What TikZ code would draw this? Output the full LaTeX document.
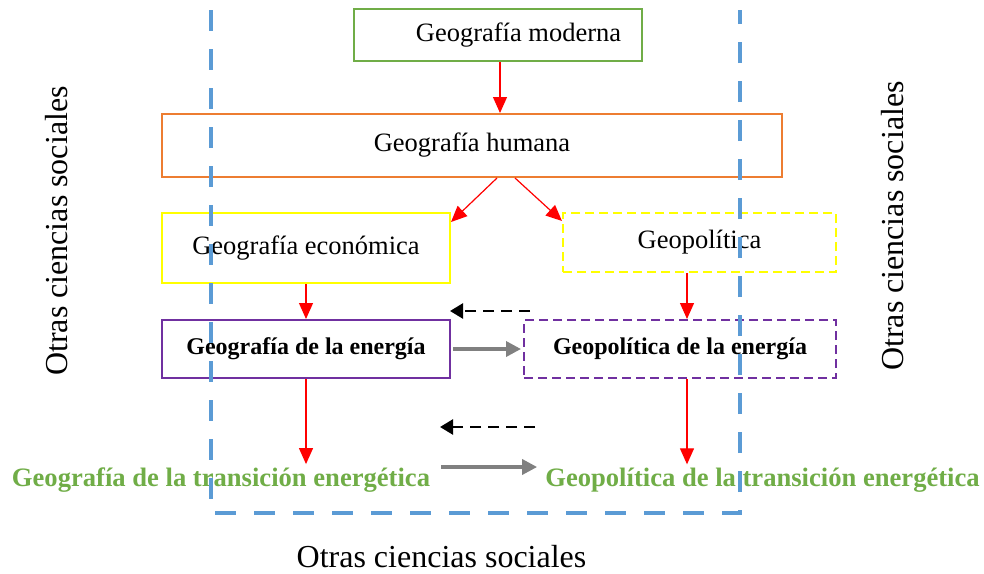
\documentclass[tikz,border=0pt]{standalone}
\usepackage{fontspec}
\setmainfont{Liberation Serif}
\usetikzlibrary{arrows.meta,calc}
\definecolor{cgreen}{HTML}{70AD47}
\definecolor{corange}{HTML}{ED7D31}
\definecolor{cyellow}{HTML}{FFFF00}
\definecolor{cpurple}{HTML}{7030A0}
\definecolor{cblue}{HTML}{5B9BD5}
\definecolor{cgray}{HTML}{808080}
\tikzset{
  box/.style={draw=#1, line width=2pt, inner sep=0pt, font=\fontsize{26.5}{30}\selectfont},
  dbox/.style={box=#1, dash pattern=on 9pt off 5pt},
  ebox/.style={box=#1, font=\fontsize{24}{28}\selectfont\bfseries},
  edbox/.style={ebox=#1, dash pattern=on 9pt off 5pt},
  gtext/.style={text=cgreen, inner sep=3pt, font=\fontsize{26.6}{30}\selectfont\bfseries},
  otext/.style={font=\fontsize{32}{36}\selectfont, inner sep=0pt},
  redarrow/.style={draw=red, line width=1.2pt, -{Triangle[length=16pt,width=14pt]}},
  grayarrow/.style={draw=cgray, line width=3.5pt, -{Triangle[length=15pt,width=15pt]}},
  dasharrow/.style={draw=black, line width=2.5pt, dash pattern=on 11pt off 7pt, -{Triangle[length=13pt,width=15pt]}},
  frame/.style={draw=cblue, line width=4pt, dash pattern=on 21pt off 18pt}
}
\begin{document}
\begin{tikzpicture}[x=1pt,y=-1pt]
\useasboundingbox (0,0) rectangle (984,573);
% boxes
\node[box=cgreen, minimum width=288pt, minimum height=52pt] (mod) at (498,35) {\hspace*{41pt}Geografía moderna};
\node[box=corange, minimum width=620pt, minimum height=63pt] (hum) at (472,145.5) {Geografía humana};
\node[box=cyellow, minimum width=288pt, minimum height=70pt] (eco) at (306,248) {\raisebox{5pt}{Geografía económica}};
\node[dbox=cyellow, minimum width=273pt, minimum height=59pt] (geo) at (699.5,242.5) {\raisebox{-2pt}{Geopolítica}};
\node[ebox=cpurple, minimum width=288pt, minimum height=58pt] (gde) at (306,349) {Geografía de la energía};
\node[edbox=cpurple, minimum width=312pt, minimum height=58pt] (gpe) at (680,349) {Geopolítica de la energía};
\node[gtext, anchor=base] (gtd) at (221,486) {Geografía de la transición energética};
\node[gtext, anchor=base] (gtp) at (762.5,486) {Geopolítica de la transición energética};
% side labels
\node[otext, rotate=90] (osl) at (57,231) {Otras ciencias sociales};
\node[otext, rotate=90] (osr) at (893,226) {Otras ciencias sociales};
\node[otext] (osb) at (441.5,557) {Otras ciencias sociales};
% helper coordinates
\coordinate (d1a) at (530,311);
\coordinate (d1b) at (450,311);
\coordinate (d2a) at (535,427);
\coordinate (d2b) at (440,427);
\coordinate (gy) at (0,467);
% connectors
\draw[redarrow] ([xshift=2pt]mod.south) -- ([xshift=2pt]mod.south |- hum.north);
\draw[redarrow] ([xshift=25pt]hum.south) -- ([yshift=-10pt]eco.north east);
\draw[redarrow] ([xshift=43pt]hum.south) -- ([yshift=-9pt]geo.north west);
\draw[redarrow] (eco.south) -- (gde.north);
\draw[redarrow] ([xshift=-12.5pt]geo.south) -- ([xshift=-12.5pt]geo.south |- gpe.north);
\draw[dasharrow] (d1a) -- (d1b);
\draw[grayarrow] ([xshift=2pt]gde.east) -- ([xshift=-2pt]gpe.west);
\draw[redarrow] (gde.south) -- (gde.south |- gtd.north);
\draw[redarrow] ([xshift=7pt]gpe.south) -- ([xshift=7pt]gpe.south |- gtp.north);
\draw[dasharrow] (d2a) -- (d2b);
\draw[grayarrow, shorten <=8pt, shorten >=5pt] (gtd.east |- gy) -- (gtp.west |- gy);
% frame
\draw[frame] (211,10) -- (211,513) -- (740,513) -- (740,10);
\end{tikzpicture}
\end{document}
